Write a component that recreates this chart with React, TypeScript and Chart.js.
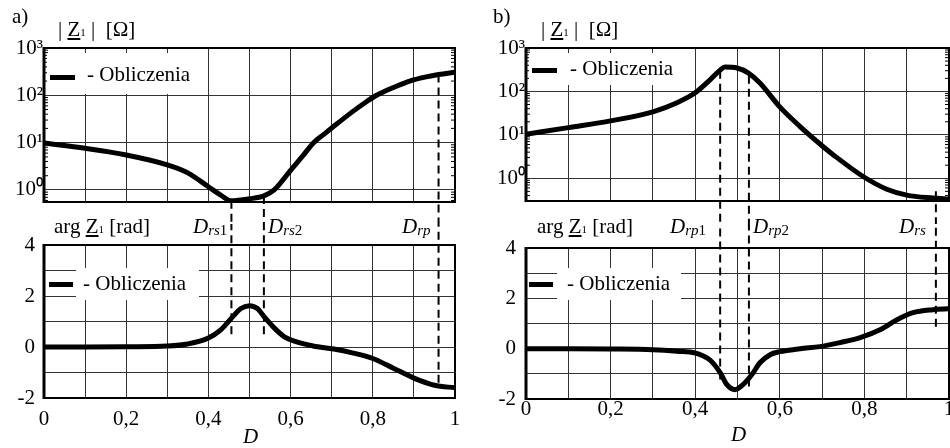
import React, { useEffect, useRef } from 'react';
import { Chart, registerables } from 'chart.js';

Chart.register(...registerables);

const FONT = "'Liberation Serif', 'Times New Roman', Times, serif";

// ---- shared axes ----
const D_TICKS = [0, 0.1, 0.2, 0.3, 0.4, 0.5, 0.6, 0.7, 0.8, 0.9, 1];
const D_LABELS = ['0', '', '0,2', '', '0,4', '', '0,6', '', '0,8', '', '1'];
const MAG_TICKS = [1, 10, 100, 1000];
const MAG_LABELS = ['10⁰', '10¹', '10²', '10³'];
const ARG_TICKS = [-2, -1, 0, 1, 2, 3, 4];
const ARG_LABELS = ['-2', '', '0', '', '2', '', '4'];

// ---- panel a) ----
const A_MAG_D = [0, 0.1, 0.2, 0.3, 0.35, 0.4, 0.43, 0.455, 0.5, 0.535, 0.56, 0.6, 0.63, 0.656, 0.68, 0.7, 0.75, 0.78, 0.807, 0.83, 0.85, 0.89, 0.93, 0.96, 1];
const A_MAG_Z = [9.8, 7.6, 5.5, 3.4, 2.3, 1.17, 0.78, 0.59, 0.65, 0.75, 1.0, 2.6, 5.3, 10, 14.8, 20.4, 44.7, 69, 98, 123, 146, 200, 245, 275, 309];
const A_ARG_D = [0, 0.1, 0.2, 0.3, 0.35, 0.4, 0.43, 0.46, 0.478, 0.5, 0.52, 0.535, 0.56, 0.585, 0.615, 0.655, 0.705, 0.75, 0.8, 0.85, 0.9, 0.95, 1];
const A_ARG_V = [0, 0, 0.01, 0.04, 0.12, 0.35, 0.67, 1.2, 1.5, 1.62, 1.5, 1.2, 0.75, 0.4, 0.2, 0.04, -0.08, -0.23, -0.45, -0.83, -1.22, -1.5, -1.6];
const A_MARK_D = [0.456, 0.535, 0.96];
const A_MARK_MAG = [0.59, 0.75, 275];
const A_MARK_ARG = [0.5, 0.5, -1.4];

// ---- panel b) ----
const B_MAG_D = [0, 0.1, 0.2, 0.3, 0.357, 0.4, 0.435, 0.459, 0.47, 0.499, 0.525, 0.553, 0.6, 0.648, 0.702, 0.726, 0.797, 0.853, 0.9, 0.962, 1];
const B_MAG_Z = [10.3, 14.7, 21, 34, 55, 93, 185, 310, 365, 346, 268, 157, 44, 15.5, 5.4, 3.5, 1.1, 0.56, 0.41, 0.35, 0.33];
const B_ARG_D = [0, 0.1, 0.2, 0.3, 0.357, 0.4, 0.418, 0.435, 0.459, 0.475, 0.494, 0.513, 0.534, 0.553, 0.577, 0.6, 0.648, 0.695, 0.742, 0.79, 0.837, 0.877, 0.915, 0.962, 1];
const B_ARG_V = [0, 0, -0.01, -0.04, -0.1, -0.17, -0.28, -0.45, -0.95, -1.43, -1.63, -1.43, -1.03, -0.56, -0.24, -0.12, 0, 0.08, 0.24, 0.44, 0.75, 1.15, 1.43, 1.55, 1.59];
const B_MARK_D = [0.459, 0.527, 0.969];
const B_MARK_MAG = [300, 230, 0.5];
const B_MARK_ARG = [-1.23, -1.5, 0.87];

type Panel = {
  kind: 'mag' | 'arg';
  left: number; top: number; width: number; height: number;
  pad: { top: number; right: number; bottom: number; left: number };
  yWidth: number; yPad: number; xHeight: number; xPad: number; showX: boolean;
  yMin: number; yMax: number;
  d: number[]; v: number[]; markD: number[]; markV: number[];
};

const framePlugin = {
  id: 'frame',
  beforeDatasetsDraw(chart: any) {
    const { ctx, chartArea: a, scales } = chart;
    ctx.save();
    ctx.strokeStyle = '#000';
    ctx.lineWidth = 2;
    ctx.strokeRect(a.left, a.top, a.right - a.left, a.bottom - a.top);
    ctx.lineWidth = 3;
    ctx.beginPath();
    ctx.moveTo(a.left, a.top - 1);
    ctx.lineTo(a.left, a.bottom + 1);
    ctx.stroke();
    const y = scales.y;
    if (y.type === 'logarithmic') {
      ctx.lineWidth = 1;
      ctx.beginPath();
      for (let e = -1; e < 3; e++) {
        for (let m = 2; m < 10; m++) {
          const v = m * Math.pow(10, e);
          if (v < y.min || v > y.max) continue;
          const py = y.getPixelForValue(v);
          ctx.moveTo(a.left, py); ctx.lineTo(a.left + 4, py);
          ctx.moveTo(a.right - 4, py); ctx.lineTo(a.right, py);
        }
      }
      ctx.stroke();
    }
    ctx.restore();
  },
};

function ChartPanel({ p }: { p: Panel }) {
  const ref = useRef<HTMLCanvasElement>(null);
  useEffect(() => {
    const isMag = p.kind === 'mag';
    const far = isMag ? 1e-4 : 100;
    const datasets: any[] = [
      {
        data: p.d.map((x, i) => ({ x, y: p.v[i] })),
        borderColor: '#000',
        borderWidth: 5,
        pointRadius: 0,
        cubicInterpolationMode: 'monotone',
        borderCapStyle: 'round',
        borderJoinStyle: 'round',
      },
    ];
    p.markD.forEach((x, i) =>
      datasets.push({
        data: [{ x, y: p.markV[i] }, { x, y: far }],
        borderColor: '#000',
        borderWidth: 2,
        borderDash: [8, 5],
        pointRadius: 0,
        clip: false,
        tension: 0,
      })
    );
    const tickFont = { family: FONT, size: 21 };
    const gridCfg = { color: '#333', lineWidth: 1, drawTicks: false };
    const chart = new Chart(ref.current as HTMLCanvasElement, {
      type: 'line',
      data: { datasets },
      options: {
        animation: false,
        responsive: false,
        devicePixelRatio: 1,
        events: [],
        layout: { padding: p.pad },
        plugins: { legend: { display: false }, tooltip: { enabled: false } },
        scales: {
          x: {
            type: 'linear',
            min: 0,
            max: 1,
            afterBuildTicks: (s: any) => { s.ticks = D_TICKS.map((value) => ({ value })); },
            afterFit: (s: any) => { s.height = p.xHeight; s.paddingLeft = 0; s.paddingRight = 0; },
            ticks: {
              display: p.showX,
              padding: p.xPad,
              maxRotation: 0,
              autoSkip: false,
              color: '#000',
              font: tickFont,
              callback: (_v: any, i: number) => D_LABELS[i],
            },
            grid: gridCfg,
            border: { display: false },
          },
          y: {
            type: isMag ? 'logarithmic' : 'linear',
            min: p.yMin,
            max: p.yMax,
            afterBuildTicks: (s: any) => { s.ticks = (isMag ? MAG_TICKS : ARG_TICKS).map((value) => ({ value })); },
            afterFit: (s: any) => { s.width = p.yWidth; s.paddingTop = 0; s.paddingBottom = 0; },
            ticks: {
              padding: p.yPad,
              autoSkip: false,
              color: '#000',
              font: tickFont,
              callback: (_v: any, i: number) => (isMag ? MAG_LABELS : ARG_LABELS)[i],
            },
            grid: gridCfg,
            border: { display: false },
          },
        },
      } as any,
      plugins: [framePlugin],
    });
    return () => chart.destroy();
  }, []);
  return (
    <canvas
      ref={ref}
      width={p.width}
      height={p.height}
      style={{ position: 'absolute', left: p.left, top: p.top, width: p.width, height: p.height }}
    />
  );
}

const PANELS: Panel[] = [
  {
    kind: 'mag', left: 0, top: 0, width: 470, height: 224,
    pad: { top: 48, right: 15, bottom: 22, left: 0 },
    yWidth: 44, yPad: 1, xHeight: 0, xPad: 0, showX: false,
    yMin: 0.557, yMax: 1000, d: A_MAG_D, v: A_MAG_Z, markD: A_MARK_D, markV: A_MARK_MAG,
  },
  {
    kind: 'arg', left: 0, top: 224, width: 470, height: 224,
    pad: { top: 21, right: 15, bottom: 0, left: 0 },
    yWidth: 44, yPad: 9, xHeight: 50, xPad: 9, showX: true,
    yMin: -2, yMax: 4, d: A_ARG_D, v: A_ARG_V, markD: A_MARK_D, markV: A_MARK_ARG,
  },
  {
    kind: 'mag', left: 470, top: 0, width: 480, height: 224,
    pad: { top: 48, right: 1, bottom: 23, left: 0 },
    yWidth: 56, yPad: 1, xHeight: 0, xPad: 0, showX: false,
    yMin: 0.314, yMax: 1000, d: B_MAG_D, v: B_MAG_Z, markD: B_MARK_D, markV: B_MARK_MAG,
  },
  {
    kind: 'arg', left: 470, top: 224, width: 480, height: 224,
    pad: { top: 24, right: 1, bottom: 0, left: 0 },
    yWidth: 56, yPad: 10, xHeight: 49, xPad: -2, showX: true,
    yMin: -2, yMax: 4, d: B_ARG_D, v: B_ARG_V, markD: B_MARK_D, markV: B_MARK_ARG,
  },
];

function T({ x, y, children, size = 21, italic = false }: any) {
  return (
    <div
      style={{
        position: 'absolute', left: x, top: y, fontFamily: FONT, fontSize: size,
        lineHeight: `${size}px`, whiteSpace: 'pre', color: '#000',
        fontStyle: italic ? 'italic' : 'normal',
      }}
    >
      {children}
    </div>
  );
}

function Sub({ children, size = 15, italic = false, drop = 2 }: any) {
  return (
    <span style={{ fontSize: size, position: 'relative', top: drop, fontStyle: italic ? 'italic' : 'normal' }}>
      {children}
    </span>
  );
}

function Z1() {
  return (
    <>
      <span style={{ textDecoration: 'underline' }}>Z</span>
      <Sub size={11} drop={0}>1</Sub>
    </>
  );
}

function DLabel({ x, sub, num }: any) {
  return (
    <T x={x} y={216}>
      <i>D</i>
      <Sub italic>{sub}</Sub>
      <Sub>{num}</Sub>
    </T>
  );
}

function Legend({ box, bar, text }: any) {
  return (
    <>
      <div style={{ position: 'absolute', left: box[0], top: box[1], width: box[2], height: box[3], background: '#fff' }} />
      <div style={{ position: 'absolute', left: bar[0], top: bar[1], width: bar[2], height: bar[3], background: '#000' }} />
      <T x={text[0]} y={text[1]}>- Obliczenia</T>
    </>
  );
}

export default function App() {
  return (
    <div style={{ position: 'absolute', left: 0, top: 0, width: 950, height: 448, overflow: 'hidden', background: '#fff' }}>
      {PANELS.map((p, i) => <ChartPanel key={i} p={p} />)}

      {/* panel a labels */}
      <T x={12} y={6}>a)</T>
      <T x={58} y={19}>| <Z1 /> |  [Ω]</T>
      <T x={54} y={216}>arg <Z1 /> [rad]</T>
      <DLabel x={193} sub="rs" num="1" />
      <DLabel x={268} sub="rs" num="2" />
      <DLabel x={402} sub="rp" num="" />
      <T x={243} y={426} italic>D</T>
      <Legend box={[47, 53, 153, 41]} bar={[50, 75, 25, 5]} text={[87, 64]} />
      <Legend box={[76, 268, 123, 32]} bar={[49, 282, 24, 5]} text={[83, 273]} />

      {/* panel b labels */}
      <T x={493} y={6}>b)</T>
      <T x={541} y={19}>| <Z1 /> |  [Ω]</T>
      <T x={537} y={216}>arg <Z1 /> [rad]</T>
      <DLabel x={670} sub="rp" num="1" />
      <DLabel x={753} sub="rp" num="2" />
      <DLabel x={899} sub="rs" num="" />
      <T x={731} y={424} italic>D</T>
      <Legend box={[529, 53, 151, 32]} bar={[532, 68, 25, 5]} text={[570, 58]} />
      <Legend box={[557, 268, 124, 32]} bar={[529, 282, 24, 5]} text={[567, 273]} />
    </div>
  );
}
